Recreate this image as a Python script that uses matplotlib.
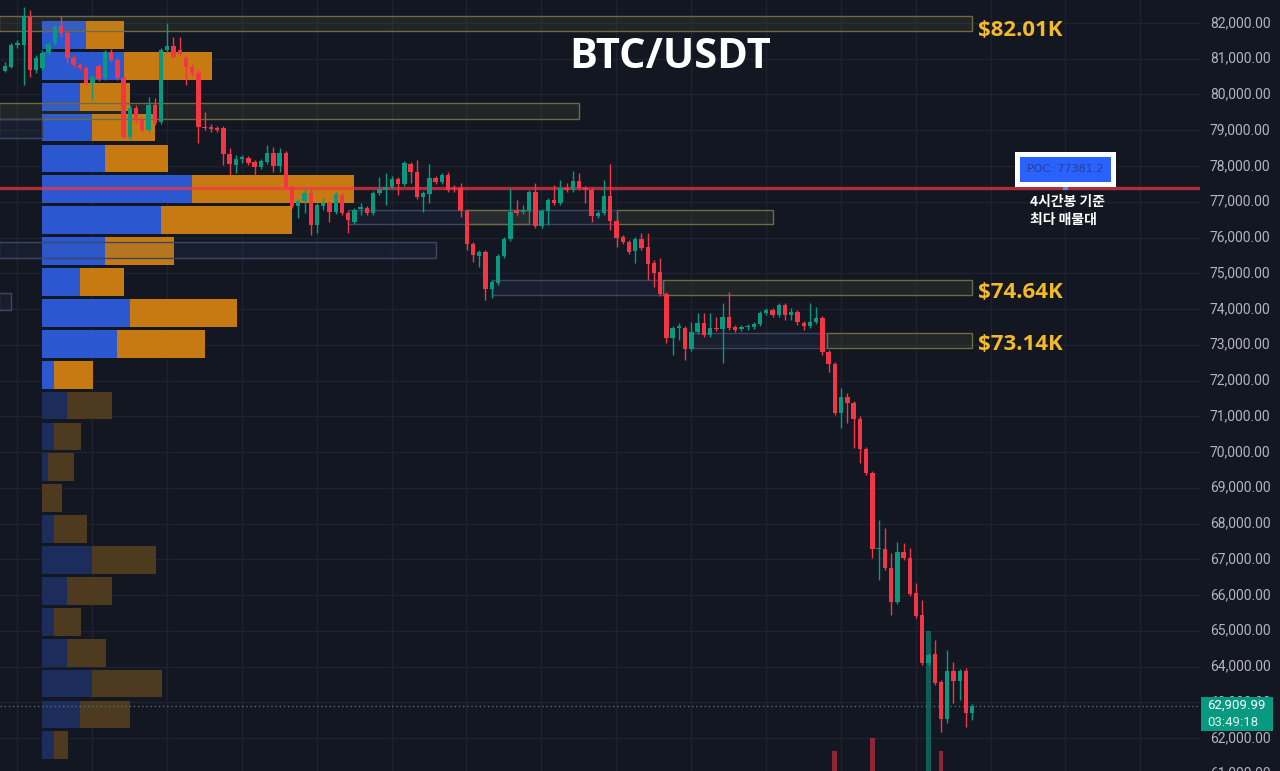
import matplotlib
matplotlib.use("Agg")
import matplotlib.pyplot as plt
import matplotlib.transforms as mtransforms
from matplotlib.patches import Rectangle
import numpy as np

# ---------------- data ----------------
opens = [80660, 80770, 81380, 81380, 82170, 80690, 80740, 81160, 81440, 81920,
         81720, 81020, 80830, 80740, 80320, 80800, 80460, 81190, 80970, 80460,
         78810, 79620, 79290, 79010, 79710, 79230, 81240, 81360, 81240, 81020,
         80770, 80600, 79090, 79090, 79060, 79060, 78340, 78030, 78200, 78220,
         78110, 77970, 78110, 78360, 78000, 78360, 77410, 76880, 77020, 77250,
         76350, 76880, 76970, 76710, 77190, 76690, 76430, 76800, 76830, 76690,
         77250, 77330, 77410, 77640, 77500, 78060, 77830, 77130, 77220, 77660,
         77550, 77750, 77390, 77390, 76740, 75820, 75480, 75600, 74560, 74730,
         75480, 75960, 76740, 76710, 76740, 77270, 76320, 76740, 77050, 76970,
         77390, 77330, 77580, 77390, 77330, 76600, 76690, 77160, 76460, 76010,
         75870, 75620, 75960, 75730, 75290, 75040, 74420, 73190, 73470, 73470,
         72880, 73360, 73610, 73270, 73470, 73440, 73780, 73500, 73440, 73500,
         73500, 73580, 73890, 73970, 73830, 74110, 73830, 73920, 73610, 73530,
         73640, 73750, 72800, 72460, 71090, 71540, 71370, 70920, 70080, 69410,
         67290, 67290, 66760, 65810, 67200, 67040, 66060, 65440, 64100, 64350,
         63570, 62530, 63880, 63600, 63880, 62700]
highs = [80910, 81440, 81520, 82450, 82360, 81100, 81240, 81470, 81940, 82200,
         81800, 81100, 80880, 80800, 80550, 80850, 81240, 81270, 81020, 80520,
         79710, 79710, 79340, 79930, 79900, 81300, 82000, 81610, 81610, 81100,
         80850, 80690, 79510, 79180, 79120, 79120, 78500, 78310, 78310, 78280,
         78170, 78200, 78590, 78530, 78500, 78420, 77470, 77080, 77390, 77390,
         76970, 77130, 77020, 77270, 77250, 76740, 76830, 76970, 76880, 77300,
         77690, 77800, 77720, 77690, 78140, 78110, 78170, 77300, 78060, 77720,
         77800, 77830, 77470, 77530, 76800, 75870, 75650, 75650, 74810, 75540,
         76010, 77390, 77050, 76910, 77330, 77530, 76800, 77100, 77470, 77610,
         77530, 77860, 77800, 77440, 77390, 76740, 77610, 78060, 76520, 76070,
         75930, 76010, 76130, 76130, 75370, 75430, 74480, 73530, 73610, 73530,
         73640, 73890, 73890, 73890, 73780, 74170, 74480, 73550, 73550, 73580,
         73640, 73940, 74030, 74030, 74170, 74170, 74030, 73970, 73670, 74170,
         74060, 73800, 72850, 72520, 71790, 71650, 71430, 71010, 70140, 69470,
         68100, 67880, 67180, 67480, 67460, 67320, 66340, 65860, 64380, 64740,
         63620, 64460, 64130, 63930, 63960, 62950]
lows = [80630, 80740, 81300, 80270, 80490, 80600, 80690, 81100, 81380, 81610,
        80880, 80770, 80690, 80270, 79850, 80380, 80410, 80910, 80410, 78780,
        78760, 79200, 78950, 78950, 79150, 79180, 81160, 81020, 81080, 80270,
        80520, 78640, 79010, 78950, 78950, 78030, 77750, 77800, 78080, 78030,
        77750, 77920, 78060, 77830, 77830, 77360, 76830, 76550, 76690, 76070,
        76130, 76770, 76430, 76660, 76630, 76130, 76380, 76630, 76630, 76630,
        77190, 76910, 77360, 77190, 77440, 77530, 77080, 76710, 76970, 77500,
        77500, 77270, 77270, 76570, 75650, 75320, 75180, 74250, 74310, 74670,
        75430, 75900, 76630, 76660, 76690, 76270, 76270, 76350, 76910, 76910,
        77270, 77270, 77330, 76970, 76430, 76550, 76630, 76210, 75730, 75820,
        75540, 75290, 75650, 74810, 74620, 74360, 73050, 72710, 73130, 72570,
        72830, 73300, 73220, 73220, 73390, 72490, 73410, 73360, 73390, 73410,
        73440, 73530, 73830, 73780, 73780, 73690, 73690, 73550, 73410, 73470,
        73580, 72710, 72240, 71040, 70670, 70810, 70110, 69690, 69360, 67040,
        66420, 66700, 65440, 65750, 66980, 65970, 65360, 64040, 64040, 63480,
        62170, 62420, 62980, 63060, 62310, 62510]
closes = [80800, 81380, 81440, 82200, 80690, 81020, 81160, 81410, 81890, 81720,
          81020, 80830, 80740, 80320, 80490, 80430, 81190, 80970, 80460, 78810,
          79620, 79290, 79010, 79710, 79200, 81240, 81360, 81050, 81130, 80770,
          80600, 79090, 79060, 79040, 79010, 78340, 78060, 78200, 78250, 78080,
          77970, 78140, 78360, 78000, 78360, 77410, 76880, 77020, 77250, 76350,
          76910, 76970, 76710, 77220, 76690, 76490, 76770, 76850, 76690, 77250,
          77360, 77410, 77640, 77500, 78080, 77830, 77130, 77250, 77660, 77550,
          77750, 77330, 77360, 76740, 75820, 75510, 75600, 74560, 74760, 75480,
          75960, 76710, 76690, 76770, 77270, 76320, 76740, 77050, 76970, 77390,
          77330, 77580, 77390, 77330, 76600, 76690, 77160, 76460, 75990, 75870,
          75600, 75960, 75710, 75260, 75010, 74420, 73190, 73470, 73530, 72880,
          73360, 73610, 73270, 73470, 73440, 73780, 73470, 73410, 73500, 73530,
          73580, 73890, 73970, 73830, 74110, 73830, 73920, 73640, 73530, 73640,
          73750, 72800, 72460, 71090, 71540, 71370, 70920, 70080, 69410, 67290,
          67320, 66760, 65810, 67200, 67040, 66030, 65410, 64100, 64320, 63540,
          62530, 63880, 63600, 63880, 62700, 62910]

# volume bars that reach into the visible pane
vol_index = [133, 139, 148, 150]
vol_values = [2.0, 3.3, 14.0, 2.0]

# volume profile rows (top to bottom): buy / sell volume
vp_top = 82100
vp_row = 864
vp_buy = [44, 82, 38, 50, 63, 150, 119, 63, 38, 88, 75, 12,
          25, 12, 6, 0, 12, 50, 25, 12, 25, 50, 38, 12]
vp_sell = [38, 88, 50, 63, 63, 162, 131, 69, 44, 107, 88, 39,
           45, 27, 26, 20, 33, 64, 45, 27, 39, 70, 50, 14]
vp_value_rows = 12

poc_price = 77381.2
last_price = 62909.99
countdown = "03:49:18"

# zones: (kind, start index, end index, low, high)
zones = [
    ("olive", -1, 155, 81780, 82200),
    ("olive", -1, 92, 79310, 79760),
    ("blue", -1, 6, 78780, 79310),
    ("blue", 55, 98, 76380, 76770),
    ("olive", 74, 84, 76380, 76770),
    ("olive", 98, 123, 76380, 76770),
    ("blue", -1, 69, 75430, 75870),
    ("blue", -1, 1, 73970, 74450),
    ("blue", 78, 105.4, 74390, 74810),
    ("olive", 105.4, 155, 74390, 74810),
    ("blue", 110, 131.7, 72910, 73330),
    ("olive", 131.7, 155, 72910, 73330),
]
level_labels = ["$82.01K", "$74.64K", "$73.14K"]
level_prices = [81780, 74450, 73020]

price_ticks = list(range(61000, 83000, 1000))

# ---------------- style ----------------
BG = "#131722"
GRID = "#1e2230"
UP = "#089981"
DOWN = "#f23645"
W, H = 1280, 771
PLOT_W = 1200

fig = plt.figure(figsize=(W / 100, H / 100), dpi=100, facecolor=BG)
rect = [0, 0, PLOT_W / W, 1]
ylo, yhi = 61078, 82643
xlo, xhi = -5 / 6.24, (PLOT_W - 5) / 6.24

ax_vp = fig.add_axes(rect)
ax_vol = fig.add_axes(rect)
ax = fig.add_axes(rect, sharex=ax_vol)
ax_vp.set_axis_off()
ax_vol.set_axis_off()
for s in ax.spines.values():
    s.set_visible(False)
ax_vp.set_facecolor(BG)
ax_vol.set_facecolor("none")
ax.set_facecolor("none")
ax.set_xticks([])
ax.set_yticks([])
ax_vp.set_ylim(ylo, yhi)
ax.set_ylim(ylo, yhi)
ax.set_xlim(xlo, xhi)
ax_vp.set_xlim(-42, PLOT_W - 42)
ax_vol.set_ylim(0, 77.1)

# grid (bottom layer)
for p in price_ticks:
    ax_vp.axhline(p, color=GRID, lw=1, zorder=0)
vtrans = mtransforms.blended_transform_factory(ax.transData, ax_vp.transAxes)
for gx in np.arange(1.94, 192, 12):
    ax_vp.plot([gx, gx], [0, 1], transform=vtrans, color=GRID, lw=1, zorder=0)

# volume profile
rows = np.arange(len(vp_buy))
centers = vp_top - (rows + 0.5) * vp_row
buy = np.array(vp_buy)
sell = np.array(vp_sell)
bright = rows < vp_value_rows
ax_vp.barh(centers, buy, height=vp_row * 0.9, left=0,
           color=np.where(bright, "#2b57d0", "#1c2d5b"), lw=0, zorder=2)
ax_vp.barh(centers, sell, height=vp_row * 0.9, left=buy,
           color=np.where(bright, "#c77a12", "#4e3a1e"), lw=0, zorder=2)

# volume histogram
o = np.array(opens); c = np.array(closes); h = np.array(highs); l = np.array(lows)
n = len(o)
idx = np.arange(n)
up = c >= o
cols = np.where(up, UP, DOWN)
ax_vol.bar(vol_index, vol_values, width=0.8, color=[cols[i] for i in vol_index],
           alpha=0.55, lw=0)
ax_vol.set_xlim(xlo, xhi)

# zones
for kind, x0, x1, lo, hi in zones:
    if kind == "olive":
        fc, ec = (0.55, 0.55, 0.30, 0.12), "#6e6b42"
    else:
        fc, ec = (0.25, 0.33, 0.50, 0.12), "#3a4762"
    ax.add_patch(Rectangle((x0, lo), x1 - x0, hi - lo, facecolor=fc,
                           edgecolor=ec, lw=1.0, zorder=1))

# POC line
ax.axhline(poc_price, color=DOWN, alpha=0.7, lw=2.4, zorder=3)
# last price line
ax.axhline(last_price, color="#4d6f73", ls=(0, (1, 2)), lw=1, zorder=2)

# candles
ax.vlines(idx, l, h, colors=cols, lw=1, zorder=4)
body_lo = np.minimum(o, c)
body_h = np.maximum(np.abs(c - o), 28)
ax.bar(idx, body_h, bottom=body_lo, width=0.7, color=cols, lw=0, zorder=5)

# level labels
for lab, p in zip(level_labels, level_prices):
    ax.text(155.9, p, lab, color="#f2b92b", fontsize=16, fontweight="bold",
            family="Open Sans", ha="left", va="center", zorder=6)

# price axis labels
ytrans = mtransforms.blended_transform_factory(ax.transAxes, ax.transData)
for p in price_ticks:
    ax.text(1 + 10 / PLOT_W, p, f"{p:,.2f}", transform=ytrans, color="#b2b5be",
            fontsize=10, family="Roboto", ha="left", va="center", clip_on=False)

def fx(x):
    return x / W

def fy(y):
    return 1 - y / H

# last price tag
fig.patches.append(Rectangle((fx(1201), fy(731)), 72 / W, 34 / H,
                             transform=fig.transFigure, facecolor=UP, lw=0, zorder=10))
fig.text(fx(1207), fy(705), f"{last_price:,.2f}", color="white", fontsize=9.5,
         family="Roboto", ha="left", va="center", zorder=11)
fig.text(fx(1207), fy(722), countdown, color="#e0f2ee", fontsize=9.5,
         family="Roboto", ha="left", va="center", zorder=11)

# title
fig.text(fx(670), fy(57), "BTC/USDT", color="white", fontsize=30,
         fontweight="bold", family="Open Sans", ha="center", va="center")

# POC tag
fig.patches.append(Rectangle((fx(1015), fy(187)), 101 / W, 35 / H,
                             transform=fig.transFigure, facecolor="white", lw=0, zorder=10))
fig.patches.append(Rectangle((fx(1020), fy(182)), 91 / W, 25 / H,
                             transform=fig.transFigure, facecolor="#2962ff", lw=0, zorder=11))
fig.patches.append(Rectangle((fx(1063), fy(190)), 5 / W, 3 / H,
                             transform=fig.transFigure, facecolor="#5b8cff", lw=0, zorder=11))
fig.text(fx(1065.5), fy(169.5), f"POC: {poc_price}", color="#27408f", fontsize=8,
         family="DejaVu Sans", ha="center", va="center", zorder=12)
kfont = ["Noto Sans CJK KR", "DejaVu Sans"]
fig.text(fx(1030), fy(202), "4시간봉 기준", color="white", fontsize=10,
         fontweight="bold", family=kfont, ha="left", va="center")
fig.text(fx(1030), fy(220), "최다 매물대", color="white", fontsize=10,
         fontweight="bold", family=kfont, ha="left", va="center")

fig.savefig("out.png", dpi=100, facecolor=BG)
